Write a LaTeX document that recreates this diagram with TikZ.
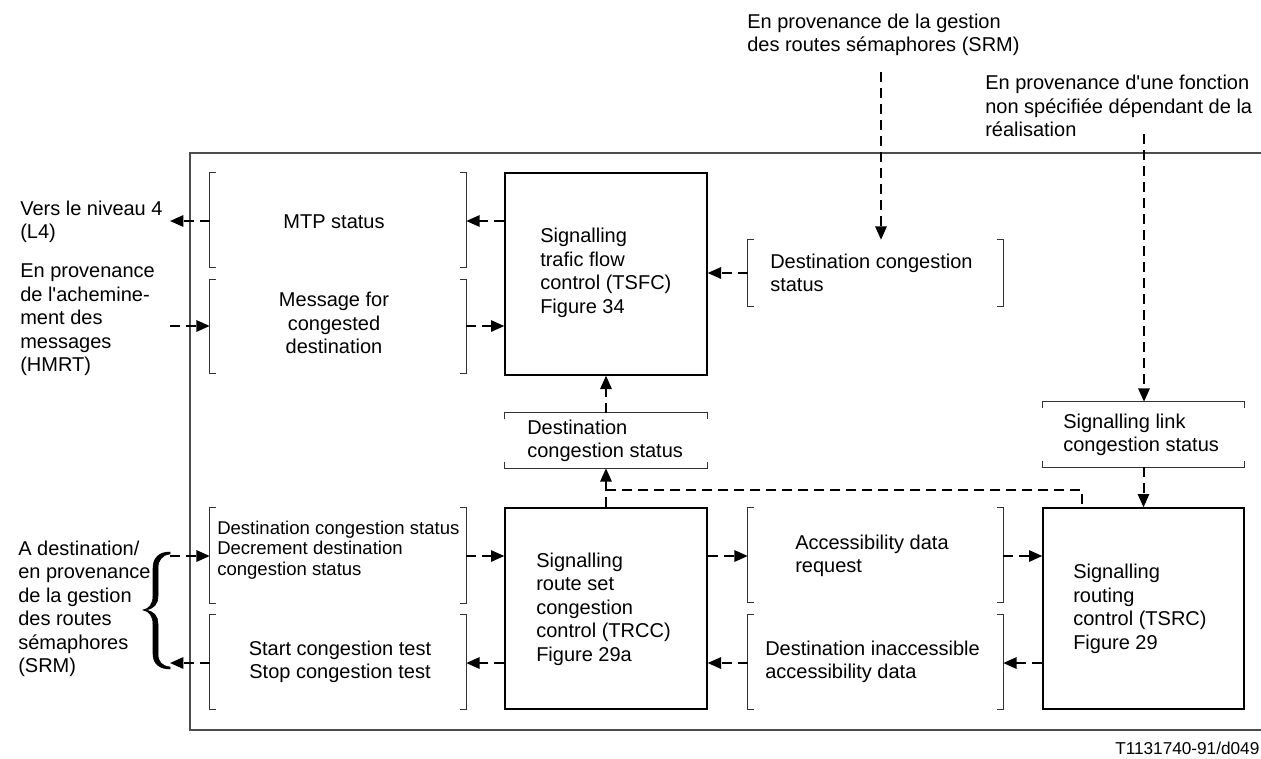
\documentclass[tikz,border=0pt]{standalone}
\usepackage{fontspec}
\setmainfont{Liberation Sans}
\usetikzlibrary{arrows.meta,calc}
\newcommand\boxat[6]{% style, name, x1, y1, x2, y2
  \node[#1, minimum width={(#5-#3)*0.75pt}, minimum height={(#6-#4)*0.75pt}] (#2) at ({(#3+#5)/2},{(#4+#6)/2}) {};}
\newcommand\vbrk[1]{%
  \draw[brk] ([xshift=5pt]#1.north west) -- (#1.north west) -- (#1.south west) -- ([xshift=5pt]#1.south west);
  \draw[brk] ([xshift=-5pt]#1.north east) -- (#1.north east) -- (#1.south east) -- ([xshift=-5pt]#1.south east);}
\newcommand\hbrk[1]{%
  \draw[brk] ([yshift=-5pt]#1.north west) -- (#1.north west) -- (#1.north east) -- ([yshift=-5pt]#1.north east);
  \draw[brk] ([yshift=5pt]#1.south west) -- (#1.south west) -- (#1.south east) -- ([yshift=5pt]#1.south east);}
\tikzset{
  box/.style={draw=black, line width=1pt, inner sep=0pt},
  blank/.style={draw=none, inner sep=0pt},
  brk/.style={draw=black!80, line width=1.1pt},
  frame/.style={draw=black!70, line width=1.2pt},
  dsh/.style={line width=1.5pt, dash pattern=on 7.5pt off 4.5pt},
  darr/.style={dsh, -{Triangle[length=10pt,width=8.5pt]}},
  txt/.style={font=\fontsize{15pt}{17.6pt}\selectfont, align=left, inner sep=0pt, anchor=west},
  stxt/.style={font=\fontsize{13.9pt}{15.5pt}\selectfont, align=left, inner sep=0pt, anchor=west},
  ftxt/.style={font=\fontsize{12.9pt}{15pt}\selectfont, inner sep=0pt, anchor=west},
  bracefill/.style={fill=black, draw=black, line width=0.4pt},
}
\begin{document}
\begin{tikzpicture}[x=0.75pt,y=-0.75pt]
\useasboundingbox (0,0) rectangle (1261,758);
% frame
\draw[frame] (1270,153) -- (190,153) -- (190,730) -- (1270,730);
% boxes
\boxat{box}{tsfc}{505}{173}{707}{375}
\boxat{box}{trcc}{505}{508}{707}{709}
\boxat{box}{tsrc}{1043}{508}{1244}{709}
\boxat{blank}{dcs2}{505}{413}{707}{468}
\boxat{blank}{slcs}{1043}{402}{1244}{467}
\boxat{blank}{mtp}{210}{173}{466}{267}
\boxat{blank}{msg}{210}{280}{466}{373}
\boxat{blank}{dcs1}{748}{240}{1003}{306}
\boxat{blank}{dcl}{210}{508}{466}{603}
\boxat{blank}{sct}{210}{615}{466}{709}
\boxat{blank}{adr}{748}{508}{1003}{602}
\boxat{blank}{dia}{748}{615}{1003}{709}
\hbrk{dcs2}
\hbrk{slcs}
\vbrk{mtp}
\vbrk{msg}
\vbrk{dcs1}
\vbrk{dcl}
\vbrk{sct}
\vbrk{adr}
\vbrk{dia}
% texts
\node[txt] (tsfcT) at (540,273) {Signalling\\trafic flow\\control (TSFC)\\Figure 34};
\node[txt] (trccT) at (536,609) {Signalling\\route set\\congestion\\control (TRCC)\\Figure 29a};
\node[txt] (tsrcT) at (1073,609) {Signalling\\routing\\control (TSRC)\\Figure 29};
\node[txt, anchor=center] (mtpT) at (334,222) {MTP status};
\node[txt, anchor=center, align=center] (msgT) at (334,323) {Message for\\congested\\destination};
\node[txt] (dcs1T) at (770,273) {Destination congestion\\status};
\node[txt] (dcs2T) at (527,441) {Destination\\congestion status};
\node[txt] (slcsT) at (1063,435) {Signalling link\\congestion status};
\node[txt] (adrT) at (795,556) {Accessibility data\\request};
\node[txt] (diaT) at (765,662) {Destination inaccessible\\accessibility data};
\node[stxt] (dclT) at (217,550) {Destination congestion status\\Decrement destination\\congestion status};
\node[txt, anchor=center, align=center] (sctT) at (340,662) {Start congestion test\\Stop congestion test};
\node[txt] (l4T) at (20,222) {Vers le niveau 4\\(L4)};
\node[txt] (hmT) at (20,320) {En provenance\\de l\textquotesingle achemine-\\ment des\\messages\\(HMRT)};
\node[txt] (srmT) at (18,609) {A destination/\\en provenance\\de la gestion\\des routes\\sémaphores\\(SRM)};
\node[txt] (top1T) at (747,35) {En provenance de la gestion\\des routes sémaphores (SRM)};
\node[txt] (top2T) at (985,106) {En provenance d\textquotesingle une fonction\\non spécifiée dépendant de la\\réalisation};
\node[ftxt] (footT) at (1115,748) {T1131740-91/d049};
% free ends
\coordinate (l4) at (170,221);
\coordinate (hm) at (170,326);
\coordinate (b1) at (170,556);
\coordinate (b2) at (170,663);
\coordinate (srm) at (881,72);
\coordinate (fn) at (1144,134);
\coordinate (j) at (606,490);
% connectors
\draw[darr] (mtp.west |- l4) -- (l4);
\draw[darr] (tsfc.west |- l4) -- (mtp.east |- l4);
\draw[darr] (hm) -- (msg.west |- hm);
\draw[darr] (msg.east |- hm) -- (tsfc.west |- hm);
\draw[darr] (dcs1.west) -- (dcs1.west -| tsfc.east);
\draw[darr] (srm) -- (srm |- dcs1.north);
\draw[darr] (dcs2.north) -- (tsfc.south);
\draw[darr] (trcc.north) -- (dcs2.south);
\draw[dsh] (j) -| ($(tsrc.north west)+(40,0)$);
\draw[darr] (fn) -- (fn |- slcs.north);
\draw[darr] (slcs.south) -- (tsrc.north);
\draw[darr] (b1) -- (dcl.west |- b1);
\draw[darr] (dcl.east |- b1) -- (trcc.west |- b1);
\draw[darr] (sct.west |- b2) -- (b2);
\draw[darr] (trcc.west |- b2) -- (sct.east |- b2);
\draw[darr] (trcc.east |- b1) -- (adr.west |- b1);
\draw[darr] (adr.east |- b1) -- (tsrc.west |- b1);
\draw[darr] (tsrc.west |- b2) -- (dia.east |- b2);
\draw[darr] (dia.west |- b2) -- (trcc.east |- b2);
% brace
\filldraw[bracefill] (170,552) .. controls (160,552) and (153,557) .. (153,568) -- (153,596)
  .. controls (153,604) and (149,609) .. (143,610)
  .. controls (149,611) and (153,616) .. (153,624) -- (153,654)
  .. controls (153,664) and (160,669) .. (170,669)
  -- (170,667) .. controls (162,666) and (158,662) .. (158,654) -- (158,624)
  .. controls (158,616) and (154,611) .. (145,610)
  .. controls (154,609) and (158,604) .. (158,596) -- (158,568)
  .. controls (158,560) and (162,555) .. (170,554) -- cycle;
\end{tikzpicture}
\end{document}
